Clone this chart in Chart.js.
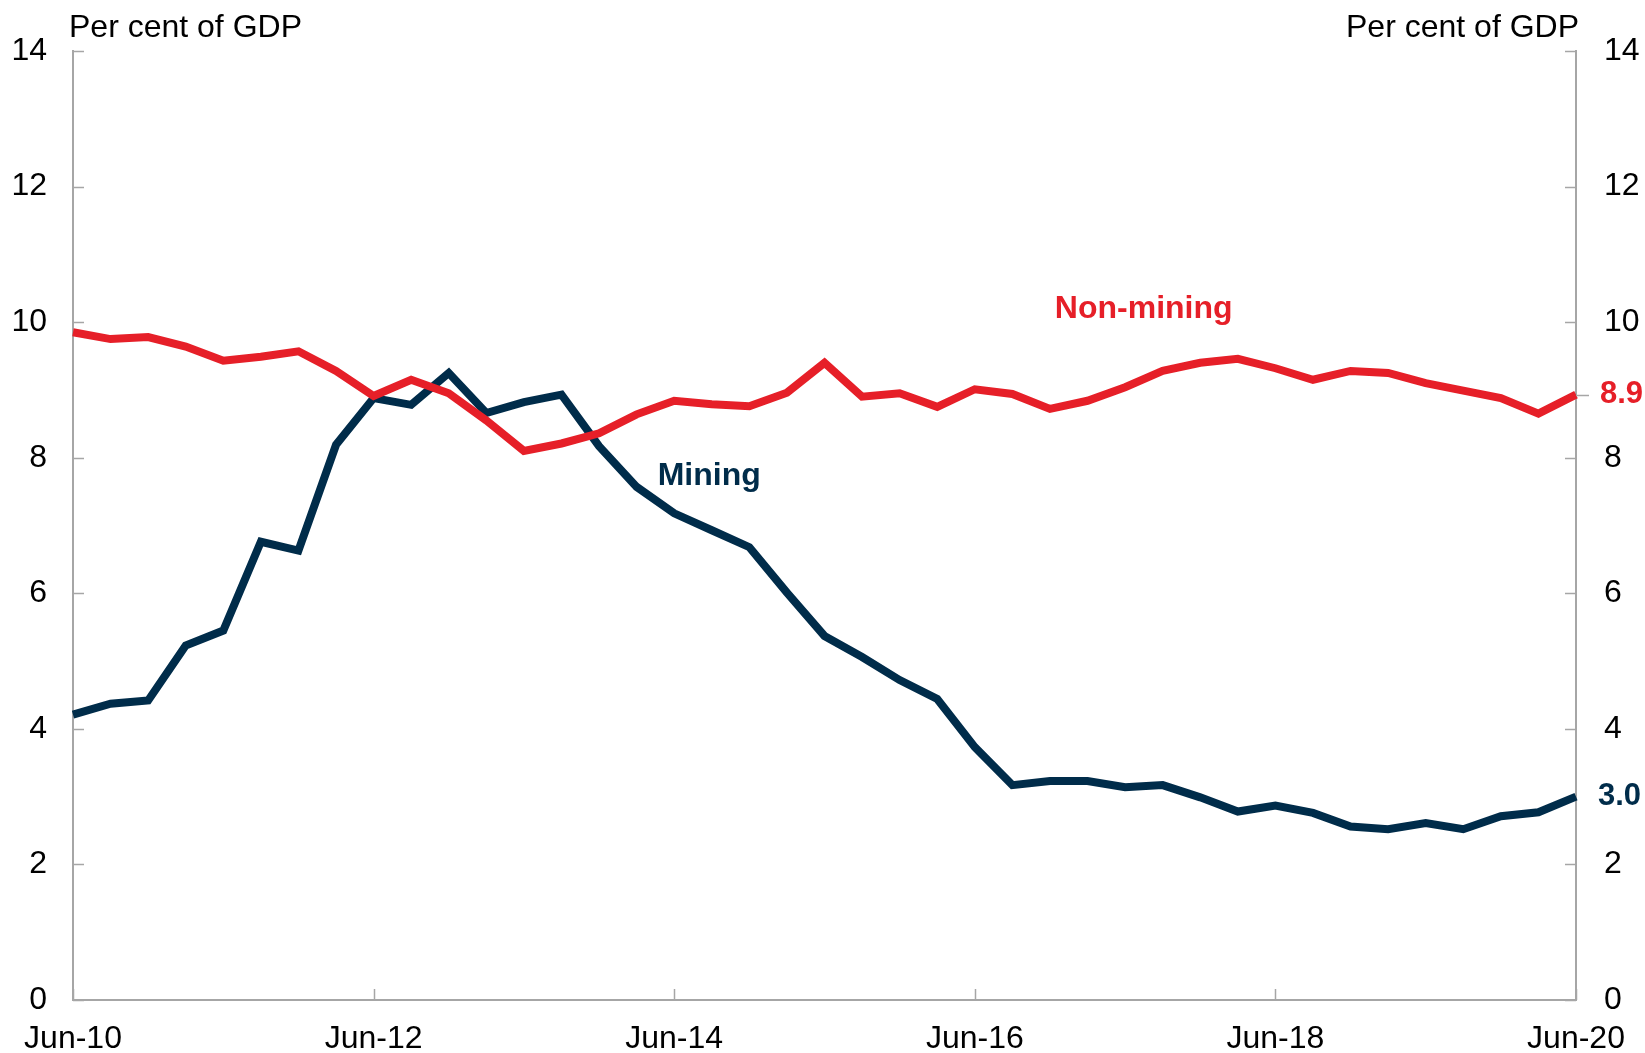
<!DOCTYPE html>
<html>
<head>
<meta charset="utf-8">
<script src="https://cdn.jsdelivr.net/npm/chart.js@4.4.1/dist/chart.umd.min.js"></script>
<style>
  html, body { margin: 0; padding: 0; background: #fff; }
  #wrap { width: 1645px; height: 1053px; position: relative; }
</style>
</head>
<body>
<div id="wrap"><canvas id="investChart"></canvas></div>
<script>
// quarterly, Jun-10 to Jun-20
const quarters = ['Jun-10', 'Sep-10', 'Dec-10', 'Mar-11', 'Jun-11', 'Sep-11', 'Dec-11', 'Mar-12',
  'Jun-12', 'Sep-12', 'Dec-12', 'Mar-13', 'Jun-13', 'Sep-13', 'Dec-13', 'Mar-14',
  'Jun-14', 'Sep-14', 'Dec-14', 'Mar-15', 'Jun-15', 'Sep-15', 'Dec-15', 'Mar-16',
  'Jun-16', 'Sep-16', 'Dec-16', 'Mar-17', 'Jun-17', 'Sep-17', 'Dec-17', 'Mar-18',
  'Jun-18', 'Sep-18', 'Dec-18', 'Mar-19', 'Jun-19', 'Sep-19', 'Dec-19', 'Mar-20', 'Jun-20'];
const xTickLabels = ['Jun-10', 'Jun-12', 'Jun-14', 'Jun-16', 'Jun-18', 'Jun-20'];
const yTicks = [0, 2, 4, 6, 8, 10, 12, 14];

const mining = [4.21, 4.37, 4.42, 5.23, 5.45, 6.76, 6.63, 8.19, 8.88, 8.78, 9.25, 8.66, 8.82, 8.93, 8.17, 7.57,
  7.18, 6.93, 6.68, 6.01, 5.37, 5.06, 4.72, 4.44, 3.73, 3.17, 3.23, 3.23, 3.14, 3.17, 2.99, 2.78,
  2.87, 2.76, 2.56, 2.52, 2.61, 2.52, 2.71, 2.77, 3.0];
const nonMining = [9.85, 9.75, 9.78, 9.64, 9.43, 9.49, 9.57, 9.28, 8.91, 9.15, 8.95, 8.55, 8.10, 8.21, 8.36, 8.64,
  8.84, 8.79, 8.76, 8.96, 9.40, 8.90, 8.95, 8.75, 9.01, 8.94, 8.72, 8.84, 9.04, 9.28, 9.40, 9.46,
  9.32, 9.15, 9.28, 9.25, 9.10, 8.99, 8.88, 8.65, 8.93];

const RED = '#e61f28';
const NAVY = '#002c4a';
const AXIS = '#a6a6a6';
const FONT = '"Liberation Sans", Arial, sans-serif';

// inner tick marks, unit titles, series labels and end values
const decorPlugin = {
  id: 'decor',
  afterDraw(chart) {
    const ctx = chart.ctx;
    const x = chart.scales.x;
    const y = chart.scales.y;
    const area = chart.chartArea;
    ctx.save();
    ctx.strokeStyle = AXIS;
    ctx.lineWidth = 1.5;
    ctx.beginPath();
    yTicks.forEach(function (v) {
      const py = Math.round(y.getPixelForValue(v)) + 0.5;
      ctx.moveTo(area.left, py);
      ctx.lineTo(area.left + 11, py);
      ctx.moveTo(area.right, py);
      ctx.lineTo(area.right - 11, py);
    });
    xTickLabels.forEach(function (lab) {
      const px = Math.round(x.getPixelForValue(quarters.indexOf(lab))) + 0.5;
      ctx.moveTo(px, area.bottom);
      ctx.lineTo(px, area.bottom - 11);
    });
    // little outward tick at the last non-mining value
    const pyLast = Math.round(y.getPixelForValue(nonMining[nonMining.length - 1])) + 0.5;
    ctx.moveTo(area.right, pyLast);
    ctx.lineTo(area.right + 13, pyLast);
    ctx.stroke();

    // unit titles
    ctx.fillStyle = '#000';
    ctx.font = '32px ' + FONT;
    ctx.textBaseline = 'alphabetic';
    ctx.textAlign = 'left';
    ctx.fillText('Per cent of GDP', area.left - 4, 37);
    ctx.textAlign = 'right';
    ctx.fillText('Per cent of GDP', area.right + 3, 37);

    // series labels
    const x0 = x.getPixelForValue(0);
    const x40 = x.getPixelForValue(quarters.length - 1);
    const xAt = function (i) { return x0 + (x40 - x0) * i / (quarters.length - 1); };
    ctx.font = 'bold 32px ' + FONT;
    ctx.textBaseline = 'middle';
    ctx.textAlign = 'left';
    ctx.fillStyle = NAVY;
    ctx.fillText('Mining', xAt(15.56), y.getPixelForValue(7.73));
    ctx.fillStyle = RED;
    ctx.fillText('Non-mining', xAt(26.13), y.getPixelForValue(10.19));

    // end values
    ctx.font = 'bold 31px ' + FONT;
    ctx.fillStyle = RED;
    ctx.fillText(nonMining[nonMining.length - 1].toFixed(1), area.right + 24, y.getPixelForValue(nonMining[nonMining.length - 1]));
    ctx.fillStyle = NAVY;
    ctx.fillText(mining[mining.length - 1].toFixed(1), area.right + 22, y.getPixelForValue(mining[mining.length - 1]));
    ctx.restore();
  }
};

const ctx = document.getElementById('investChart');
Chart.defaults.font.family = FONT;
Chart.defaults.color = '#000';

new Chart(ctx, {
  type: 'line',
  data: {
    labels: quarters,
    datasets: [{
      label: 'Non-mining',
      data: nonMining,
      borderColor: RED,
      borderWidth: 8,
      pointRadius: 0,
      tension: 0,
      yAxisID: 'y'
    }, {
      label: 'Mining',
      data: mining,
      borderColor: NAVY,
      borderWidth: 8,
      pointRadius: 0,
      tension: 0,
      yAxisID: 'y'
    }]
  },
  options: {
    responsive: true,
    maintainAspectRatio: false,
    animation: false,
    layout: { padding: { top: 51, left: 0, right: 0, bottom: 0 } },
    plugins: {
      legend: { display: false },
      tooltip: { enabled: false }
    },
    scales: {
      x: {
        type: 'category',
        offset: false,
        grid: { display: false, drawTicks: false },
        border: { display: true, color: AXIS, width: 2 },
        ticks: {
          autoSkip: false,
          maxRotation: 0,
          padding: 20,
          font: { size: 32 },
          callback: function (val, idx) {
            const lab = this.getLabelForValue(val);
            return xTickLabels.includes(lab) ? lab : '';
          }
        },
        afterFit: function (scale) { scale.height = 53; }
      },
      y: {
        position: 'left',
        min: 0,
        max: 14,
        grid: { display: false, drawTicks: false },
        border: { display: true, color: AXIS, width: 2 },
        ticks: { stepSize: 2, padding: 26, font: { size: 32 } },
        afterFit: function (scale) { scale.width = 73; }
      },
      y2: {
        position: 'right',
        min: 0,
        max: 14,
        grid: { display: false, drawTicks: false },
        border: { display: true, color: AXIS, width: 2 },
        ticks: { stepSize: 2, padding: 28, font: { size: 32 } },
        afterFit: function (scale) { scale.width = 69; }
      }
    }
  },
  plugins: [decorPlugin]
});
</script>
</body>
</html>
